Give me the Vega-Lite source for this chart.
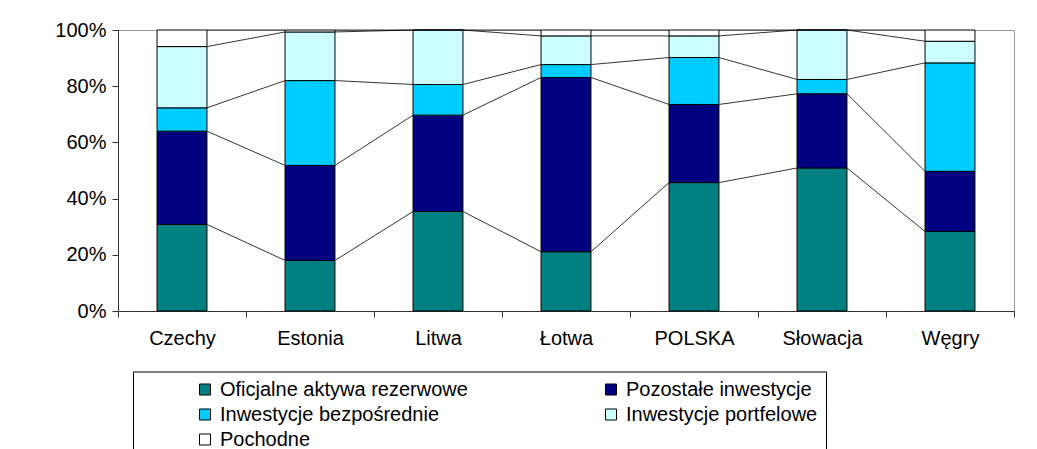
{
  "$schema": "https://vega.github.io/schema/vega-lite/v6.json",
  "autosize": "none",
  "width": 896,
  "height": 281,
  "padding": {"left": 118, "top": 30, "right": 23, "bottom": 138},
  "background": "white",
  "data": {"values": [
    {"kraj": "Czechy", "nr": 1, "seria": "Oficjalne aktywa rezerwowe", "k": 1, "v": 30.8},
    {"kraj": "Czechy", "nr": 1, "seria": "Pozostałe inwestycje", "k": 2, "v": 33.2},
    {"kraj": "Czechy", "nr": 1, "seria": "Inwestycje bezpośrednie", "k": 3, "v": 8.3},
    {"kraj": "Czechy", "nr": 1, "seria": "Inwestycje portfelowe", "k": 4, "v": 21.8},
    {"kraj": "Czechy", "nr": 1, "seria": "Pochodne", "k": 5, "v": 5.9},
    {"kraj": "Estonia", "nr": 2, "seria": "Oficjalne aktywa rezerwowe", "k": 1, "v": 18.0},
    {"kraj": "Estonia", "nr": 2, "seria": "Pozostałe inwestycje", "k": 2, "v": 33.8},
    {"kraj": "Estonia", "nr": 2, "seria": "Inwestycje bezpośrednie", "k": 3, "v": 30.2},
    {"kraj": "Estonia", "nr": 2, "seria": "Inwestycje portfelowe", "k": 4, "v": 17.3},
    {"kraj": "Estonia", "nr": 2, "seria": "Pochodne", "k": 5, "v": 0.7},
    {"kraj": "Litwa", "nr": 3, "seria": "Oficjalne aktywa rezerwowe", "k": 1, "v": 35.4},
    {"kraj": "Litwa", "nr": 3, "seria": "Pozostałe inwestycje", "k": 2, "v": 34.3},
    {"kraj": "Litwa", "nr": 3, "seria": "Inwestycje bezpośrednie", "k": 3, "v": 10.9},
    {"kraj": "Litwa", "nr": 3, "seria": "Inwestycje portfelowe", "k": 4, "v": 19.4},
    {"kraj": "Litwa", "nr": 3, "seria": "Pochodne", "k": 5, "v": 0.0},
    {"kraj": "Łotwa", "nr": 4, "seria": "Oficjalne aktywa rezerwowe", "k": 1, "v": 21.1},
    {"kraj": "Łotwa", "nr": 4, "seria": "Pozostałe inwestycje", "k": 2, "v": 62.0},
    {"kraj": "Łotwa", "nr": 4, "seria": "Inwestycje bezpośrednie", "k": 3, "v": 4.6},
    {"kraj": "Łotwa", "nr": 4, "seria": "Inwestycje portfelowe", "k": 4, "v": 10.2},
    {"kraj": "Łotwa", "nr": 4, "seria": "Pochodne", "k": 5, "v": 2.1},
    {"kraj": "POLSKA", "nr": 5, "seria": "Oficjalne aktywa rezerwowe", "k": 1, "v": 45.7},
    {"kraj": "POLSKA", "nr": 5, "seria": "Pozostałe inwestycje", "k": 2, "v": 27.8},
    {"kraj": "POLSKA", "nr": 5, "seria": "Inwestycje bezpośrednie", "k": 3, "v": 16.7},
    {"kraj": "POLSKA", "nr": 5, "seria": "Inwestycje portfelowe", "k": 4, "v": 7.7},
    {"kraj": "POLSKA", "nr": 5, "seria": "Pochodne", "k": 5, "v": 2.1},
    {"kraj": "Słowacja", "nr": 6, "seria": "Oficjalne aktywa rezerwowe", "k": 1, "v": 50.9},
    {"kraj": "Słowacja", "nr": 6, "seria": "Pozostałe inwestycje", "k": 2, "v": 26.4},
    {"kraj": "Słowacja", "nr": 6, "seria": "Inwestycje bezpośrednie", "k": 3, "v": 5.1},
    {"kraj": "Słowacja", "nr": 6, "seria": "Inwestycje portfelowe", "k": 4, "v": 17.6},
    {"kraj": "Słowacja", "nr": 6, "seria": "Pochodne", "k": 5, "v": 0.0},
    {"kraj": "Węgry", "nr": 7, "seria": "Oficjalne aktywa rezerwowe", "k": 1, "v": 28.3},
    {"kraj": "Węgry", "nr": 7, "seria": "Pozostałe inwestycje", "k": 2, "v": 21.4},
    {"kraj": "Węgry", "nr": 7, "seria": "Inwestycje bezpośrednie", "k": 3, "v": 38.6},
    {"kraj": "Węgry", "nr": 7, "seria": "Inwestycje portfelowe", "k": 4, "v": 7.7},
    {"kraj": "Węgry", "nr": 7, "seria": "Pochodne", "k": 5, "v": 4.0}
  ]},
  "transform": [
    {"stack": "v", "groupby": ["kraj"], "sort": [{"field": "k"}], "as": ["y0", "y1"]},
    {"window": [{"op": "lead", "field": "y1", "as": "ny"}, {"op": "lead", "field": "kraj", "as": "nk"}], "groupby": ["seria"], "sort": [{"field": "nr"}]}
  ],
  "layer": [
    {
      "mark": {"type": "bar", "width": {"band": 0.39}, "stroke": "black", "strokeWidth": 1},
      "encoding": {
        "x": {"field": "kraj", "type": "nominal",
          "scale": {"domain": ["Czechy", "Estonia", "Litwa", "Łotwa", "POLSKA", "Słowacja", "Węgry"], "paddingInner": 0, "paddingOuter": 0},
          "axis": {"title": null, "labelAngle": 0, "tickBand": "extent", "tickSize": 6, "labelPadding": 11, "labelFontSize": 20, "labelFont": "Liberation Sans", "labelColor": "black", "domainColor": "#333", "tickColor": "#333"}},
        "y": {"field": "y1", "type": "quantitative",
          "scale": {"domain": [0, 100], "nice": false},
          "axis": {"title": null, "grid": false, "values": [0, 20, 40, 60, 80, 100], "labelExpr": "datum.value + '%'", "tickSize": 6, "labelPadding": 6, "labelFontSize": 20, "labelFont": "Liberation Sans", "labelColor": "black", "domainColor": "#333", "tickColor": "#333"}},
        "y2": {"field": "y0"},
        "color": {"field": "seria", "type": "nominal",
          "scale": {"domain": ["Oficjalne aktywa rezerwowe", "Pozostałe inwestycje", "Inwestycje bezpośrednie", "Inwestycje portfelowe", "Pochodne"],
                    "range": ["#008080", "#000080", "#00CCFF", "#CCFFFF", "#FFFFFF"]},
          "legend": {"title": null, "orient": "none", "direction": "horizontal", "legendX": 15, "legendY": 341.5, "columns": 2, "columnPadding": 79, "rowPadding": 5, "padding": 8,
            "strokeColor": "black", "fillColor": "white", "symbolType": "square", "symbolSize": 121, "symbolStrokeColor": "black", "symbolStrokeWidth": 1,
            "symbolOffset": 54, "labelOffset": 5, "labelFontSize": 20, "labelFont": "Liberation Sans", "labelColor": "black", "labelLimit": 320,
            "labelExpr": "datum.label == 'Inwestycje portfelowe' ? datum.label + '                      ' : datum.label"}}
      }
    },
    {
      "transform": [{"filter": "datum.nk != null"}],
      "mark": {"type": "rule", "color": "black", "strokeWidth": 0.8},
      "encoding": {
        "x": {"field": "kraj", "type": "nominal", "bandPosition": 0.695},
        "x2": {"field": "nk", "bandPosition": 0.305},
        "y": {"field": "y1", "type": "quantitative"},
        "y2": {"field": "ny"}
      }
    }
  ],
  "config": {
    "view": {"stroke": "#999", "strokeWidth": 1},
    "font": "Liberation Sans",
    "legend": {"zindex": 1}
  }
}
